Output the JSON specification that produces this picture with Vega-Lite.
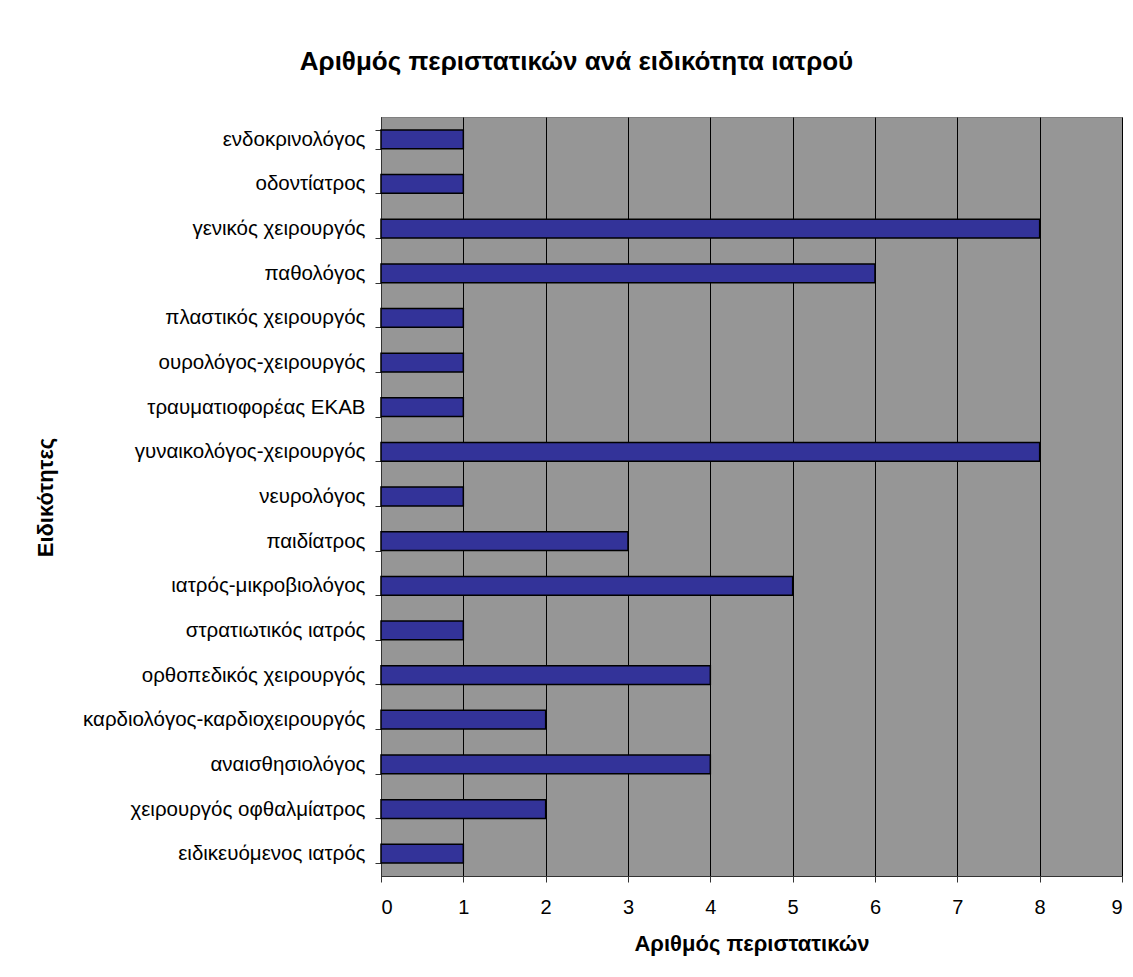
{
  "$schema": "https://vega.github.io/schema/vega-lite/v6.json",
  "autosize": {"type": "none"},
  "padding": {"left": 381, "top": 117, "right": 11, "bottom": 101},
  "width": 741,
  "height": 759,
  "background": "white",
  "title": {
    "text": "Αριθμός περιστατικών ανά ειδικότητα ιατρού",
    "font": "Liberation Sans",
    "fontSize": 26,
    "fontWeight": "bold",
    "color": "black",
    "anchor": "middle",
    "dx": -175,
    "offset": 32
  },
  "config": {
    "font": "Liberation Sans",
    "view": {"fill": "#969696", "stroke": "#808080", "strokeWidth": 1}
  },
  "data": {
    "values": [
      {"specialty": "ενδοκρινολόγος", "cases": 1},
      {"specialty": "οδοντίατρος", "cases": 1},
      {"specialty": "γενικός χειρουργός", "cases": 8},
      {"specialty": "παθολόγος", "cases": 6},
      {"specialty": "πλαστικός χειρουργός", "cases": 1},
      {"specialty": "ουρολόγος-χειρουργός", "cases": 1},
      {"specialty": "τραυματιοφορέας ΕΚΑΒ", "cases": 1},
      {"specialty": "γυναικολόγος-χειρουργός", "cases": 8},
      {"specialty": "νευρολόγος", "cases": 1},
      {"specialty": "παιδίατρος", "cases": 3},
      {"specialty": "ιατρός-μικροβιολόγος", "cases": 5},
      {"specialty": "στρατιωτικός ιατρός", "cases": 1},
      {"specialty": "ορθοπεδικός χειρουργός", "cases": 4},
      {"specialty": "καρδιολόγος-καρδιοχειρουργός", "cases": 2},
      {"specialty": "αναισθησιολόγος", "cases": 4},
      {"specialty": "χειρουργός οφθαλμίατρος", "cases": 2},
      {"specialty": "ειδικευόμενος ιατρός", "cases": 1}
    ]
  },
  "mark": {"type": "bar", "color": "#333399", "stroke": "black", "strokeWidth": 1.5},
  "encoding": {
    "y": {
      "field": "specialty",
      "type": "nominal",
      "sort": null,
      "scale": {"paddingInner": 0.58, "paddingOuter": 0.29},
      "axis": {
        "title": "Ειδικότητες",
        "titleFont": "Liberation Sans",
        "titleFontSize": 22,
        "titleFontWeight": "bold",
        "titleColor": "black",
        "titleX": -336,
        "titleY": 380,
        "titleBaseline": "middle",
        "titleAnchor": null,
        "labelFont": "Liberation Sans",
        "labelFontSize": 20.5,
        "labelColor": "black",
        "labelPadding": 10,
        "labelLimit": 0,
        "tickBand": "extent",
        "tickSize": 6,
        "tickColor": "#333333",
        "domainColor": "#333333",
        "grid": false
      }
    },
    "x": {
      "field": "cases",
      "type": "quantitative",
      "scale": {"domain": [0, 9], "nice": false},
      "axis": {
        "title": "Αριθμός περιστατικών",
        "titleFont": "Liberation Sans",
        "titleFontSize": 22,
        "titleFontWeight": "bold",
        "titleColor": "black",
        "titleY": 67,
        "titleBaseline": "middle",
        "values": [0, 1, 2, 3, 4, 5, 6, 7, 8, 9],
        "format": "d",
        "labelFont": "Liberation Sans",
        "labelFontSize": 20,
        "labelColor": "black",
        "labelPadding": 15,
        "tickSize": 6,
        "tickColor": "#333333",
        "domainColor": "#333333",
        "grid": true,
        "gridColor": "black",
        "gridWidth": 1,
        "gridOpacity": 1
      }
    }
  }
}
